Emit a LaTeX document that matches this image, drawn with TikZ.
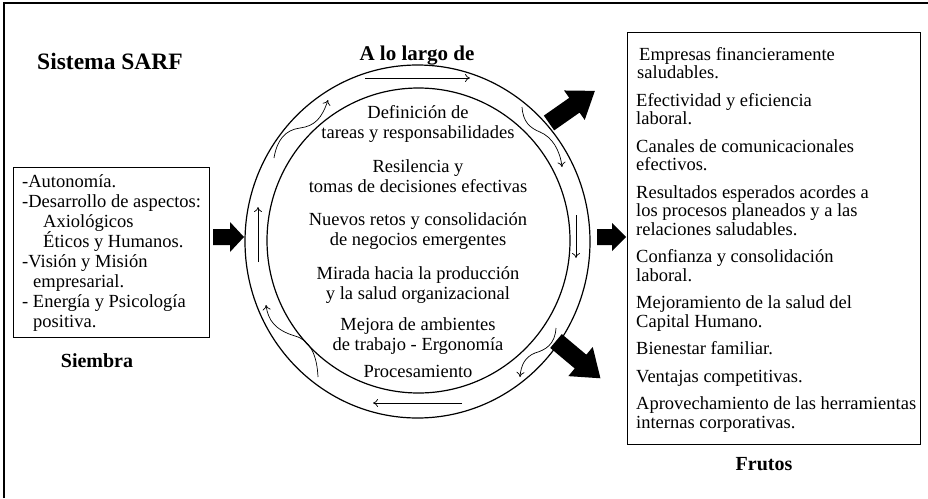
\documentclass[tikz,border=0pt]{standalone}
\usepackage{fontspec}
\setmainfont{Liberation Serif}
\usetikzlibrary{arrows.meta,shapes.geometric}
\tikzset{
  pics/blk/.style n args={4}{code={
    \fill[black] (0,-#3) -- ({#1-#2},-#3) -- ({#1-#2},-#4) -- (#1,0) -- ({#1-#2},#4) -- ({#1-#2},#3) -- (0,#3) -- cycle;}},
  txt/.style={font=\fontsize{18.5}{20}\selectfont, inner sep=0pt, anchor=base west},
  ctxt/.style={font=\fontsize{18.5}{20}\selectfont, inner sep=0pt, anchor=base},
  ttl/.style={font=\fontsize{20}{22}\selectfont\bfseries, inner sep=0pt, anchor=base},
  flow/.style={line width=0.7pt, -{To[length=5pt,width=8pt]}},
  boxed/.style={draw, line width=1.1pt, inner sep=0pt, anchor=north west},
  ring/.style={draw, line width=1.2pt, ellipse, inner sep=0pt}
}
\begin{document}
\begin{tikzpicture}[x=1pt,y=-1pt]
\useasboundingbox (0,0) rectangle (928,498);
% frame
\draw[line width=1.6pt] (4,498) -- (4,3) -- (928,3);

% titles
\node[font=\fontsize{23.5}{25}\selectfont\bfseries, inner sep=0pt, anchor=base west] (sarf) at (37,69) {Sistema SARF};
\node[ttl, font=\fontsize{21}{23}\selectfont\bfseries] (largo) at (417,60) {A lo largo de};
\node[ttl] (siembra) at (97,367) {Siembra};
\node[ttl] (frutos) at (764,470) {Frutos};

% rings
\node[ring, minimum width=345pt, minimum height=353pt] (outer) at (417.5,241.5) {};
\node[ring, minimum width=303pt, minimum height=305pt] (inner) at (418.5,240.5) {};

% left box
\node[boxed, minimum width=196pt, minimum height=170pt] (sbox) at (13,167) {};
\node[txt] (s1) at (22,187) {-Autonomía.};
\node[txt] (s2) at (22,207) {-Desarrollo de aspectos:};
\node[txt] (s3) at (43,227) {Axiológicos};
\node[txt] (s4) at (43,247) {Éticos y Humanos.};
\node[txt] (s5) at (22,267) {-Visión y Misión};
\node[txt] (s6) at (33,287) {empresarial.};
\node[txt] (s7) at (22,307) {- Energía y Psicología};
\node[txt] (s8) at (33,327) {positiva.};

% circle texts
\node[ctxt] (c1) at (418,118) {Definición de};
\node[ctxt] (c2) at (418,138) {tareas y responsabilidades};
\node[ctxt] (c3) at (418,172) {Resilencia y};
\node[ctxt] (c4) at (418,192) {tomas de decisiones efectivas};
\node[ctxt] (c5) at (418,225) {Nuevos retos y consolidación};
\node[ctxt] (c6) at (418,245) {de negocios emergentes};
\node[ctxt] (c7) at (418,279) {Mirada hacia la producción};
\node[ctxt] (c8) at (418,299) {y la salud organizacional};
\node[ctxt] (c9) at (418,330) {Mejora de ambientes};
\node[ctxt] (c10) at (418,350) {de trabajo - Ergonomía};
\node[ctxt] (c11) at (418,377) {Procesamiento};

% right box
\node[boxed, minimum width=293pt, minimum height=412pt] (fbox) at (627,32) {};
\node[txt] (f1) at (639,60) {Empresas financieramente};
\node[txt] (f2) at (637,78.5) {saludables.};
\node[txt] (f3) at (636,106) {Efectividad y eficiencia};
\node[txt] (f4) at (636,124.5) {laboral.};
\node[txt] (f5) at (636,152) {Canales de comunicacionales};
\node[txt] (f6) at (636,170.5) {efectivos.};
\node[txt] (f7) at (636,198) {Resultados esperados acordes a};
\node[txt] (f8) at (636,216.5) {los procesos planeados y a las};
\node[txt] (f9) at (636,235) {relaciones saludables.};
\node[txt] (f10) at (636,262.5) {Confianza y consolidación};
\node[txt] (f11) at (636,281) {laboral.};
\node[txt] (f12) at (636,308.5) {Mejoramiento de la salud del};
\node[txt] (f13) at (636,327) {Capital Humano.};
\node[txt] (f14) at (636,354.5) {Bienestar familiar.};
\node[txt] (f15) at (636,382) {Ventajas competitivas.};
\node[txt] (f16) at (636,409.5) {Aprovechamiento de las herramientas};
\node[txt] (f17) at (636,428) {internas corporativas.};

% block arrows
\pic at (213,237) {blk={31}{14}{8}{15}};
\pic at (597,237) {blk={29}{14}{8}{14}};
\pic[rotate=35] at (549,123) {blk={56}{25}{9}{18}};
\pic[rotate=-40] at (556,341) {blk={58}{26}{9}{19}};

% ring flow arrows
\coordinate (t0) at (365,78);   \coordinate (t1) at (470,78);
\coordinate (b0) at (462,403);  \coordinate (b1) at (373,403);
\coordinate (l0) at (258,262);  \coordinate (l1) at (258,207);
\coordinate (r0) at (576,215);  \coordinate (r1) at (576,258);
\draw[flow] (t0) -- (t1);
\draw[flow] (b0) -- (b1);
\draw[flow] (l0) -- (l1);
\draw[flow] (r0) -- (r1);
\draw[flow] (274,158) .. controls (277,140) and (285,130) .. (300,128) .. controls (315,126) and (322,118) .. (328,100);
\draw[flow] (522,107) .. controls (523,122) and (530,128) .. (540,132) .. controls (552,137) and (560,150) .. (562,167);
\draw[flow] (556,328) .. controls (555,345) and (545,350) .. (535,353) .. controls (525,357) and (521,365) .. (520,377);
\draw[flow] (318,377) .. controls (317,355) and (310,340) .. (295,336) .. controls (275,330) and (268,320) .. (266,305);
\end{tikzpicture}
\end{document}
